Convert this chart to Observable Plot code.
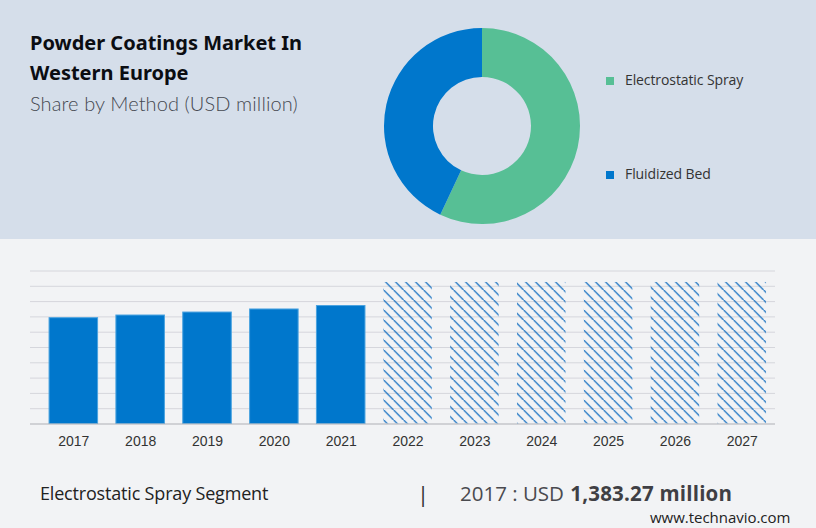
<!DOCTYPE html>
<html>
<head>
<meta charset="utf-8">
<script src="https://cdn.jsdelivr.net/npm/d3@7"></script>
<script src="https://cdn.jsdelivr.net/npm/@observablehq/plot@0.6"></script>
<style>
  html, body { margin: 0; padding: 0; }
  body { width: 816px; height: 528px; position: relative; overflow: hidden; background: #f2f3f5; font-family: "Open Sans", sans-serif; }
  #top { position: absolute; left: 0; top: 0; width: 816px; height: 239px; background: #d5deea; }
  .t { position: absolute; white-space: nowrap; }
  #donut, #bars { position: absolute; }
  #donut { left: 382px; top: 26px; }
  #bars { left: 0; top: 260px; }
  .sw { position: absolute; width: 8px; height: 8px; }
</style>
</head>
<body>
<div id="top"></div>
<div class="t" style="left:30px;top:29px;font:700 20px/28px 'Noto Sans';color:#0b0d12">Powder Coatings Market In</div>
<div class="t" style="left:30px;top:59px;font:700 20px/28px 'Noto Sans';color:#0b0d12">Western Europe</div>
<div class="t" style="left:30px;top:90px;font:300 20px/26px Lato;letter-spacing:0.1px;color:#454951">Share by Method (USD million)</div>
<div id="donut"></div>
<div id="legend"></div>
<div id="bars"></div>
<div class="t" style="left:40px;top:481px;font:400 18px/24px 'Open Sans';letter-spacing:-0.18px;color:#222">Electrostatic Spray Segment</div>
<div class="t" style="left:417px;top:478px;font:400 22px/30px 'Open Sans';color:#333">|</div>
<div class="t" style="left:460px;top:479px;font:400 20.5px/28px 'Open Sans';color:#4a4a4f">2017 : USD <b style="color:#3f3f44;margin-left:1px;letter-spacing:0.2px">1,383.27 million</b></div>
<div class="t" style="left:650px;top:507px;font:400 15px/20px 'Open Sans';letter-spacing:-0.03px;color:#222">www.technavio.com</div>
<script>
var methods = ["Electrostatic Spray", "Fluidized Bed"];
var shares = [57, 43];
var methodColors = ["#57bf95", "#0077cc"];
var legendTops = [80, 174];

var years = ["2017", "2018", "2019", "2020", "2021", "2022", "2023", "2024", "2025", "2026", "2027"];
var actualYears = ["2017", "2018", "2019", "2020", "2021"];
var actualValues = [1383.27, 1418, 1457, 1497, 1542];
var forecastYears = ["2022", "2023", "2024", "2025", "2026", "2027"];
var forecastValues = [1850, 1850, 1850, 1850, 1850, 1850];
var gridTicks = [0, 200, 400, 600, 800, 1000, 1200, 1400, 1600, 1800, 2000];

// donut: a stacked bar whose x scale runs in radians, drawn as arcs
var arc = d3.arc().innerRadius(49).outerRadius(98);
var donut = Plot.plot({
  width: 200,
  height: 200,
  margin: 0,
  style: { background: "transparent" },
  x: { domain: [0, 100], range: [0, 2 * Math.PI], axis: null },
  color: { domain: methods, range: methodColors },
  marks: [
    Plot.barX(shares, {
      x: (d) => d,
      fill: (d, i) => methods[i],
      render(index, scales, values, dimensions) {
        var g = d3.create("svg:g").attr("transform", `translate(${dimensions.width / 2},${dimensions.height / 2})`);
        for (var i of index) {
          g.append("path")
            .attr("fill", values.fill[i])
            .attr("d", arc({ startAngle: values.x1[i], endAngle: values.x2[i] }));
        }
        return g.node();
      },
    }),
  ],
});
document.getElementById("donut").append(donut);

var legend = document.getElementById("legend");
methods.forEach((m, i) => {
  legend.insertAdjacentHTML("beforeend",
    `<div class="sw" style="left:606px;top:${legendTops[i] - 3}px;background:${methodColors[i]}"></div>` +
    `<div class="t" style="left:625px;top:${legendTops[i] - 10}px;font:400 14px/20px 'Open Sans';letter-spacing:-0.1px;color:#333">${m}</div>`);
});

var hatchDefs = () => {
  var defs = d3.create("svg:defs");
  var p = defs.append("pattern")
    .attr("id", "hatch")
    .attr("patternUnits", "userSpaceOnUse")
    .attr("width", 10)
    .attr("height", 10)
    .attr("patternTransform", "translate(3.6,0)");
  p.append("line").attr("x1", -1).attr("y1", -1).attr("x2", 11).attr("y2", 11)
    .attr("stroke", "#0062bc").attr("stroke-width", 1.2);
  return defs.node();
};

var bars = Plot.plot({
  width: 816,
  height: 190,
  marginLeft: 30,
  marginRight: 41,
  marginTop: 10.5,
  marginBottom: 26.5,
  style: { background: "transparent", fontFamily: "'Liberation Sans'", fontSize: "14px", color: "#333" },
  x: { domain: years, range: [39.9, 775.2], paddingInner: 0.274, paddingOuter: 0.137, round: false, label: null },
  y: { domain: [0, 2000], axis: null },
  marks: [
    hatchDefs,
    Plot.ruleY(gridTicks.slice(1), { y: (d) => d, stroke: "#d5d6dc", strokeWidth: 1, strokeOpacity: 1 }),
    Plot.barY(forecastValues, { x: forecastYears, y: (d) => d, fill: "url(#hatch)" }),
    Plot.barY(actualValues, { x: actualYears, y: (d) => d, fill: "#0077cc", stroke: "#4aa3e0", strokeWidth: 1 }),
    Plot.ruleY([0], { stroke: "#aeb0b5", strokeWidth: 1.2, strokeOpacity: 1 }),
    Plot.axisX({ tickSize: 0, tickPadding: 12, label: null, fill: "#333", fontSize: 14 }),
  ],
});
document.getElementById("bars").append(bars);
</script>
</body>
</html>
